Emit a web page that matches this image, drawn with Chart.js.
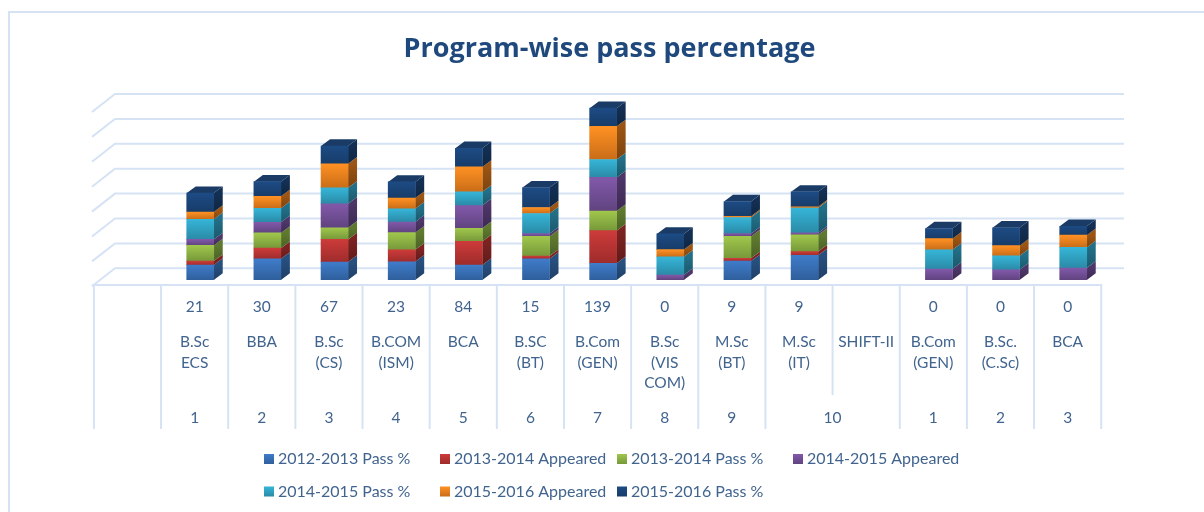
<!DOCTYPE html>
<html><head><meta charset="utf-8">
<style>html,body{margin:0;padding:0;background:#fff}canvas{display:block}</style>
<script src="https://cdn.jsdelivr.net/npm/chart.js@4"></script>
</head><body>
<canvas id="c" width="1204" height="512"></canvas>
<script>
const categories = ['', ['B.Sc','ECS'], 'BBA', ['B.Sc','(CS)'], ['B.COM','(ISM)'], 'BCA', ['B.SC','(BT)'], ['B.Com','(GEN)'], ['B.Sc','(VIS','COM)'], ['M.Sc','(BT)'], ['M.Sc','(IT)'], 'SHIFT-II', ['B.Com','(GEN)'], ['B.Sc.','(C.Sc)'], 'BCA'];
const appeared2012 = ['', '21', '30', '67', '23', '84', '15', '139', '0', '9', '9', '', '0', '0', '0'];
const serialNos = ['', '1', '2', '3', '4', '5', '6', '7', '8', '9', '10', null, '1', '2', '3'];
const pass1213 = [null, 60, 85, 72, 73, 60, 85, 67, 0, 76, 99, null, 0, 0, 0];
const app1314  = [null, 16, 43, 91, 48, 95, 11, 131, 0, 11, 15, null, 0, 0, 0];
const pass1314 = [null, 63, 61, 47, 69, 53, 79, 79, 0, 88, 67, null, 0, 0, 0];
const app1415  = [null, 24, 43, 96, 43, 91, 11, 135, 20, 11, 8, null, 44, 41, 48];
const pass1415 = [null, 81, 56, 64, 53, 55, 81, 72, 73, 65, 100, null, 77, 56, 83];
const app1516  = [null, 29, 48, 97, 43, 100, 24, 133, 29, 5, 5, null, 45, 41, 49];
const pass1516 = [null, 76, 59, 71, 65, 75, 80, 73, 63, 59, 60, null, 41, 72, 36];
const seriesNames = ['2012-2013 Pass %','2013-2014 Appeared','2013-2014 Pass %','2014-2015 Appeared','2014-2015 Pass %','2015-2016 Appeared','2015-2016 Pass %'];
const seriesValues = [pass1213, app1314, pass1314, app1415, pass1415, app1516, pass1516];
const yTicks = [0,100,200,300,400,500,600,700];

const lightTop = ['#3f7cca','#cc3b3a','#a0c74c','#8259aa','#36b5d8','#ff9123','#1d4b84'];
const lightBot = ['#2f5f9c','#9e2c2b','#76983a','#60437f','#2a8aa6','#c96d18','#173c69'];
const sideTop  = ['#27507f','#7c2322','#5f7a2f','#4d3668','#226f87','#9c5513','#132f53'];
const sideBot  = ['#1f3f66','#611b1a','#4b6125','#3d2a52','#1b586b','#7c430f','#0f2642'];
const topColor = '#193b66';
const lineColor = '#d6e3f4';
const textColor = '#41648f';
const depthX = 9, depthY = 6.7;
const wallDX = 23, wallDY = 18, backShift = 11.7, wallRight = 1124;
const tableShift = 5.6, tableTop = 285, tableBottom = 429, mergeBottom = 395;
const countRowY = 307, serialRowY = 418;
const legendCols = [264, 440, 617, 793], legendRows = [459, 491.5];

function grad(ctx, y0, y1, a, b){
  const g = ctx.createLinearGradient(0, y0, 0, y1);
  g.addColorStop(0, a); g.addColorStop(1, b);
  return g;
}
function frontFill(ds){
  return c => {
    if (c.type !== 'data') return lightTop[ds];
    const y = c.chart.scales.y;
    let sum = 0;
    for (let k = 0; k < ds; k++) sum += seriesValues[k][c.dataIndex] || 0;
    const v = seriesValues[ds][c.dataIndex] || 0;
    const y0 = y.getPixelForValue(sum + v), y1 = y.getPixelForValue(sum);
    if (!isFinite(y0) || !isFinite(y1)) return lightTop[ds];
    return grad(c.chart.ctx, y0, y1, lightTop[ds], lightBot[ds]);
  };
}
const scene = {
  id: 'scene',
  afterLayout(chart){
    chart.titleBlock.left = 15; chart.titleBlock.right = 1204;
  },
  beforeDatasetsDraw(chart){
    const ctx = chart.ctx, x = chart.scales.x, y = chart.scales.y;
    ctx.save();
    // outer frame
    ctx.strokeStyle = lineColor; ctx.lineWidth = 2;
    ctx.beginPath(); ctx.moveTo(9, 512); ctx.lineTo(9, 12); ctx.lineTo(1204, 12); ctx.stroke();
    // walls from the value scale
    yTicks.forEach(v => {
      const py = y.getPixelForValue(v) - backShift;
      ctx.beginPath();
      ctx.moveTo(wallRight, py); ctx.lineTo(92 + wallDX, py); ctx.lineTo(92, py + wallDY);
      ctx.stroke();
    });
    // data table
    const half = (x.getPixelForTick(1) - x.getPixelForTick(0)) / 2;
    const left = x.getPixelForTick(0) - half - tableShift;
    const right = x.getPixelForTick(categories.length - 1) + half - tableShift;
    ctx.beginPath(); ctx.moveTo(left - 2, tableTop); ctx.lineTo(right + 1, tableTop); ctx.stroke();
    categories.forEach((_, i) => {
      const px = x.getPixelForTick(i) - half - tableShift;
      ctx.beginPath(); ctx.moveTo(px, tableTop);
      ctx.lineTo(px, serialNos[i] === null ? mergeBottom : tableBottom); ctx.stroke();
    });
    ctx.beginPath(); ctx.moveTo(right, tableTop); ctx.lineTo(right, tableBottom); ctx.stroke();
    ctx.fillStyle = textColor; ctx.font = '15.5px Lato'; ctx.textAlign = 'center'; ctx.textBaseline = 'middle';
    categories.forEach((_, i) => {
      const cx = x.getPixelForTick(i) - tableShift;
      ctx.fillText(appeared2012[i], cx, countRowY);
      if (serialNos[i]) ctx.fillText(serialNos[i], serialNos[i + 1] === null ? cx + half : cx, serialRowY);
    });
    // legend
    ctx.textAlign = 'left'; ctx.font = '16px Lato';
    seriesNames.forEach((name, i) => {
      const col = i < 4 ? i : i - 4, py = legendRows[i < 4 ? 0 : 1], lx = legendCols[col];
      ctx.fillStyle = grad(ctx, py - 5, py + 5, lightTop[i], lightBot[i]);
      ctx.fillRect(lx, py - 5, 10, 10);
      ctx.fillStyle = textColor;
      ctx.fillText(name, lx + 14, py);
    });
    // 3D side and top faces built on the bar elements
    const tops = {};
    chart.data.datasets.forEach((d, ds) => {
      chart.getDatasetMeta(ds).data.forEach((el, i) => {
        if (!(seriesValues[ds][i] > 0)) return;
        const r = el.x + el.width / 2, t = el.y, b = el.base;
        ctx.fillStyle = grad(ctx, t, b, sideTop[ds], sideBot[ds]);
        ctx.beginPath();
        ctx.moveTo(r, t); ctx.lineTo(r + depthX, t - depthY);
        ctx.lineTo(r + depthX, b - depthY); ctx.lineTo(r, b);
        ctx.closePath(); ctx.fill();
        tops[i] = el;
      });
    });
    ctx.fillStyle = topColor;
    Object.values(tops).forEach(el => {
      const l = el.x - el.width / 2, r = el.x + el.width / 2, t = el.y;
      ctx.beginPath();
      ctx.moveTo(l, t); ctx.lineTo(l + depthX, t - depthY);
      ctx.lineTo(r + depthX, t - depthY); ctx.lineTo(r, t);
      ctx.closePath(); ctx.fill();
    });
    ctx.restore();
  }
};
new Chart(document.getElementById('c'), {
  type: 'bar',
  plugins: [scene],
  data: {
    labels: categories,
    datasets: seriesNames.map((name, ds) => ({
      label: name,
      data: seriesValues[ds],
      backgroundColor: frontFill(ds),
      barThickness: 27,
      borderWidth: 0
    }))
  },
  options: {
    responsive: false,
    animation: false,
    layout: { padding: { left: 99.5, right: 97.2, top: 0, bottom: 0 } },
    plugins: {
      legend: { display: false },
      tooltip: { enabled: false },
      title: {
        display: true,
        text: 'Program-wise pass percentage',
        color: '#1f497d',
        font: { family: 'Open Sans', size: 27, weight: 'bold', lineHeight: 1.2 },
        padding: { top: 33, bottom: 40.3 }
      }
    },
    scales: {
      x: {
        stacked: true,
        offset: true,
        grid: { display: false },
        border: { display: false },
        ticks: { autoSkip: false, maxRotation: 0, minRotation: 0, labelOffset: -5.6, padding: 44,
                 color: textColor, font: { family: 'Lato', size: 15.5, lineHeight: 1.32 } },
        afterFit(s){ s.height = 232; }
      },
      y: {
        stacked: true,
        min: 0, max: 700,
        grid: { display: false },
        border: { display: false },
        ticks: { display: false, stepSize: 100 },
        afterFit(s){ s.width = 0; }
      }
    }
  }
});
</script>
</body></html>
